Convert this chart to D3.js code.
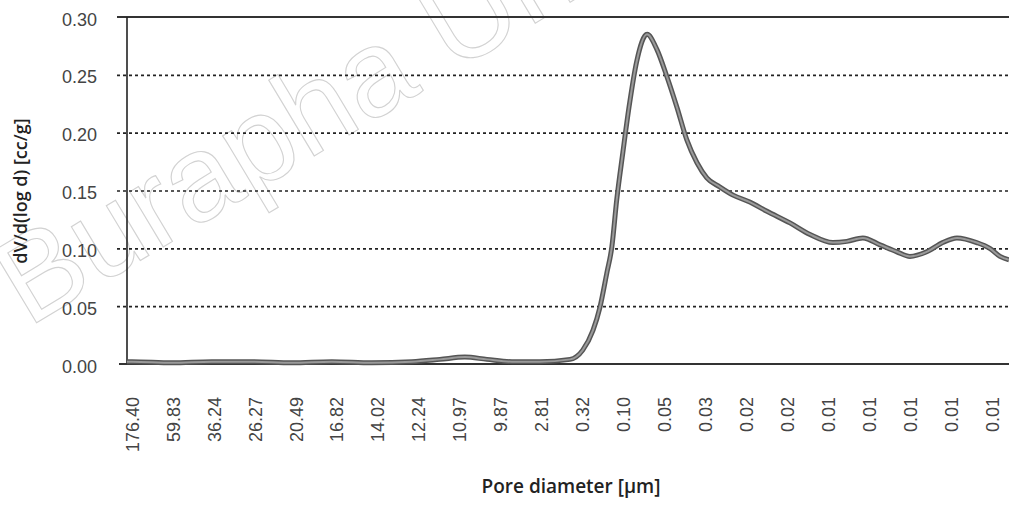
<!DOCTYPE html>
<html>
<head>
<meta charset="utf-8">
<script src="https://cdn.jsdelivr.net/npm/d3@7"></script>
<style>
  body { margin: 0; background: #fff; }
  svg { display: block; }
</style>
</head>
<body>
<svg id="chart"></svg>
<script>
/* chart size */
const width = 1009, height = 511;
const margin = { top: 17, right: 0, bottom: 147, left: 127 };

/* category labels along x (pore diameter, um) */
const xLabels = ["176.40", "59.83", "36.24", "26.27", "20.49", "16.82", "14.02", "12.24",
                 "10.97", "9.87", "2.81", "0.32", "0.10", "0.05", "0.03", "0.02", "0.02",
                 "0.01", "0.01", "0.01", "0.01", "0.01"];
/* y ticks */
const yTicks = [0, 0.05, 0.10, 0.15, 0.20, 0.25, 0.30];

/* measured curve: position in label units, dV/d(log d) */
const poreIdx = [-0.12, 0, 0.98, 1.95, 2.93, 3.91, 4.88, 5.86, 6.84, 7.52, 8.13, 8.67, 9.28, 9.96,
                 10.70, 11.01, 11.26, 11.43, 11.60, 11.72, 11.84, 11.99, 12.14, 12.33, 12.58,
                 12.82, 13.06, 13.31, 13.55, 13.80, 14.04, 14.36, 14.68, 15.09, 15.51, 16.07,
                 16.56, 17.12, 17.46, 17.85, 18.27, 18.68, 19.00, 19.41, 19.80, 20.15, 20.63,
                 20.95, 21.20, 21.42];
const dvValues = [0.002, 0.002, 0.001, 0.002, 0.002, 0.001, 0.002, 0.001, 0.002, 0.004, 0.006, 0.004,
                  0.002, 0.002, 0.004, 0.012, 0.029, 0.049, 0.079, 0.101, 0.142, 0.183, 0.222,
                  0.262, 0.285, 0.272, 0.249, 0.222, 0.194, 0.174, 0.161, 0.153, 0.146, 0.140,
                  0.132, 0.122, 0.112, 0.105, 0.106, 0.109, 0.103, 0.097, 0.093, 0.097, 0.105,
                  0.109, 0.105, 0.100, 0.093, 0.090];

const data = poreIdx.map((p, i) => ({ x: p, y: dvValues[i] }));

const svg = d3.select("#chart").attr("width", width).attr("height", height);

/* watermark (outlined, runs off the top like the scan) */
svg.append("text")
  .attr("transform", "translate(28,328) rotate(-31)")
  .attr("font-family", "Liberation Sans, Arial, sans-serif")
  .attr("font-size", 122)
  .attr("fill", "none").attr("stroke", "#d2d2d2").attr("stroke-width", 1.1)
  .text("Burapha University");

/* scales */
const xScale = d3.scaleLinear().domain([-0.12, 21.42]).range([margin.left, width - margin.right]);
const yScale = d3.scaleLinear().domain([0, 0.30]).range([height - margin.bottom, margin.top]);

/* dashed grid + y labels */
const yAxis = svg.append("g").attr("transform", `translate(${margin.left},0)`)
  .call(d3.axisLeft(yScale).tickValues(yTicks).tickFormat(d3.format(".2f"))
    .tickSize(-(width - margin.left)).tickPadding(30));
yAxis.select(".domain").remove();
yAxis.selectAll(".tick line")
  .attr("x1", -10)
  .attr("stroke", "#222").attr("stroke-width", 1.6).attr("stroke-dasharray", "3,3")
  .filter(d => d === 0 || d === 0.30).remove();
yAxis.selectAll(".tick text")
  .attr("font-family", "Liberation Sans, Arial, sans-serif")
  .attr("font-size", 18).attr("fill", "#444").attr("dy", "0.45em");

/* frame: top, left, bottom */
svg.append("line").attr("x1", margin.left - 10).attr("x2", width)
  .attr("y1", yScale(0.30)).attr("y2", yScale(0.30))
  .attr("stroke", "#333").attr("stroke-width", 2);
svg.append("line").attr("x1", margin.left).attr("x2", margin.left)
  .attr("y1", yScale(0.30)).attr("y2", yScale(0))
  .attr("stroke", "#222").attr("stroke-width", 1.6);

/* x axis */
const xAxis = svg.append("g").attr("transform", `translate(0,${yScale(0)})`)
  .call(d3.axisBottom(xScale).tickValues(d3.range(xLabels.length))
    .tickFormat(i => xLabels[i]).tickSize(0));
xAxis.select(".domain").attr("d", `M${margin.left - 8},0H${width}`)
  .attr("stroke", "#333").attr("stroke-width", 2);
xAxis.selectAll(".tick text")
  .attr("font-family", "Liberation Sans, Arial, sans-serif")
  .attr("font-size", 18).attr("fill", "#444")
  .attr("text-anchor", "end")
  .attr("transform", "rotate(-90)")
  .attr("x", -33).attr("y", 0).attr("dy", "0.35em");

/* curve */
const line = d3.line().x(d => xScale(d.x)).y(d => yScale(d.y)).curve(d3.curveMonotoneX);
svg.append("path").datum(data).attr("d", line)
  .attr("fill", "none").attr("stroke", "#555").attr("stroke-width", 5);
svg.append("path").datum(data).attr("d", line)
  .attr("fill", "none").attr("stroke", "#9a9a9a").attr("stroke-width", 2);

/* axis titles */
svg.append("text")
  .attr("x", 571).attr("y", 493)
  .attr("text-anchor", "middle")
  .attr("font-family", "Open Sans, sans-serif").attr("font-weight", 600)
  .attr("font-size", 19).attr("fill", "#222")
  .text("Pore diameter [\u00b5m]");
svg.append("text")
  .attr("transform", "translate(27,191) rotate(-90)")
  .attr("text-anchor", "middle")
  .attr("font-family", "Open Sans, sans-serif").attr("font-weight", 600)
  .attr("font-size", 18).attr("fill", "#222")
  .text("dV/d(log d) [cc/g]");
</script>
</body>
</html>
